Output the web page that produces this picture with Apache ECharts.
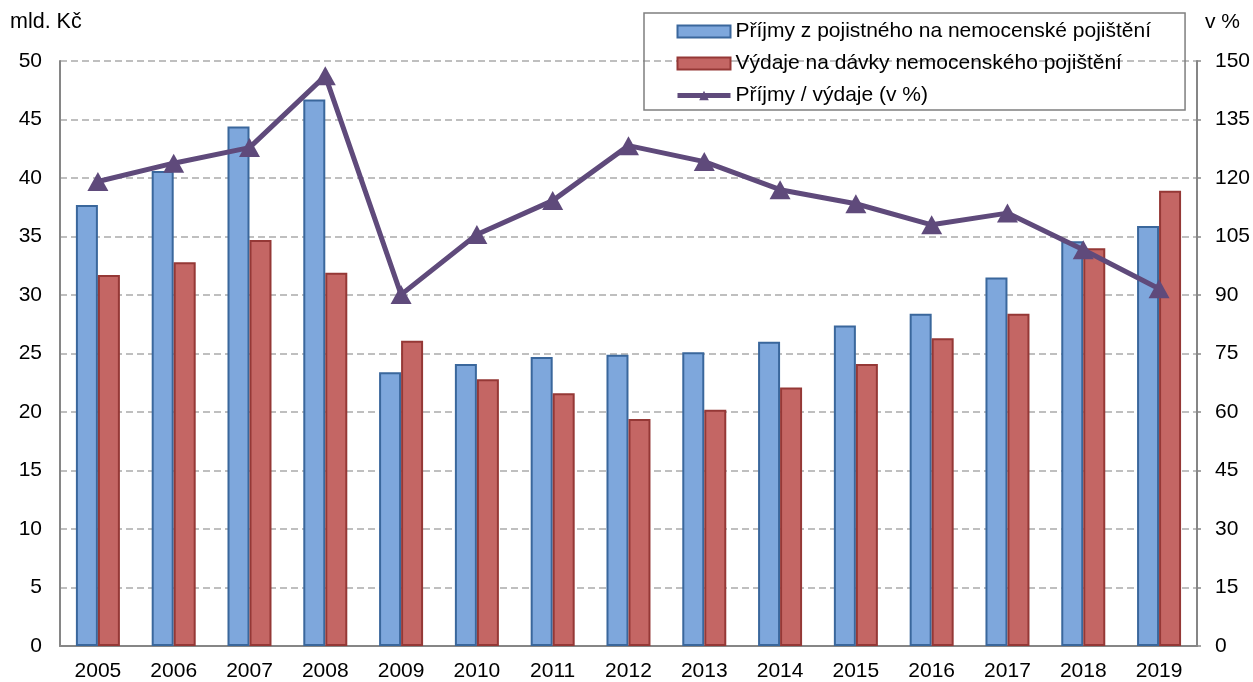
<!DOCTYPE html>
<html>
<head>
<meta charset="utf-8">
<script src="https://cdn.jsdelivr.net/npm/echarts@6/dist/echarts.min.js"></script>
<style>
html,body{margin:0;padding:0;background:#fff;}
#c{width:1253px;height:682px;}
</style>
</head>
<body>
<div id="c"></div>
<script>
const years = ['2005','2006','2007','2008','2009','2010','2011','2012','2013','2014','2015','2016','2017','2018','2019'];
const prijmy = [37.7, 40.6, 44.4, 46.7, 23.4, 24.1, 24.7, 24.9, 25.1, 26.0, 27.4, 28.4, 31.5, 34.6, 35.9];
const vydaje = [31.7, 32.8, 34.7, 31.9, 26.1, 22.8, 21.6, 19.4, 20.2, 22.1, 24.1, 26.3, 28.4, 34.0, 38.9];
const pomer = [119.1, 123.8, 127.8, 146.2, 90.1, 105.5, 114.2, 128.3, 124.2, 117.0, 113.4, 108.0, 111.0, 101.6, 91.6];
const leftTicks = [0, 5, 10, 15, 20, 25, 30, 35, 40, 45, 50];
const rightTicks = [0, 15, 30, 45, 60, 75, 90, 105, 120, 135, 150];
const names = ['Příjmy z pojistného na nemocenské pojištění', 'Výdaje na dávky nemocenského pojištění', 'Příjmy / výdaje (v %)'];

const FONT = 'Liberation Sans, Arial, sans-serif';
const chart = echarts.init(document.getElementById('c'), null, {renderer: 'canvas'});
chart.setOption({
  animation: false,
  textStyle: {fontFamily: FONT},
  grid: {left: 60, right: 54, top: 61, bottom: 35, containLabel: false},
  legend: {
    orient: 'vertical',
    left: 644, top: 13,
    padding: [8, 34, 4, 31],
    borderColor: '#7f7f7f', borderWidth: 1.5,
    itemWidth: 53, itemHeight: 12, itemGap: 11,
    textStyle: {fontSize: 21, color: '#000', fontFamily: FONT},
    data: [
      {name: names[0], icon: 'rect'},
      {name: names[1], icon: 'rect'},
      {name: names[2], lineStyle: {width: 5}}
    ]
  },
  graphic: [
    {type: 'text', left: 10, top: 11, style: {text: 'mld. Kč', font: '21.5px ' + FONT, fill: '#000'}},
    {type: 'text', left: 1205, top: 12, style: {text: 'v %', font: '21px ' + FONT, fill: '#000'}}
  ],
  xAxis: {
    type: 'category', data: years,
    axisLine: {lineStyle: {color: '#868686', width: 2}},
    axisTick: {show: false},
    axisLabel: {color: '#000', fontSize: 21, margin: 15}
  },
  yAxis: [
    {type: 'value', min: leftTicks[0], max: leftTicks[leftTicks.length-1], interval: 5,
     axisLine: {show: true, lineStyle: {color: '#868686', width: 2}},
     axisTick: {show: false},
     axisLabel: {color: '#000', fontSize: 21, margin: 18},
     splitLine: {lineStyle: {color: '#bfbfbf', type: [7, 4], width: 2}}},
    {type: 'value', min: rightTicks[0], max: rightTicks[rightTicks.length-1], interval: 15,
     position: 'right',
     axisLine: {show: true, lineStyle: {color: '#868686', width: 2}},
     axisTick: {show: true, length: 4, lineStyle: {color: '#868686', width: 1.5}},
     axisLabel: {color: '#000', fontSize: 21, margin: 18},
     splitLine: {show: false}}
  ],
  series: [
    {name: names[0], type: 'bar', data: prijmy, barWidth: 22, barGap: '0%',
     itemStyle: {color: '#7ea7dc', borderColor: '#3a679c', borderWidth: 2}},
    {name: names[1], type: 'bar', data: vydaje, barWidth: 22,
     itemStyle: {color: '#c46664', borderColor: '#953836', borderWidth: 2}},
    {name: names[2], type: 'line', yAxisIndex: 1, data: pomer,
     symbol: 'triangle', symbolSize: [21, 19],
     lineStyle: {color: '#5f4a7b', width: 5},
     itemStyle: {color: '#5f4a7b'}, z: 5}
  ]
});
</script>
</body>
</html>
